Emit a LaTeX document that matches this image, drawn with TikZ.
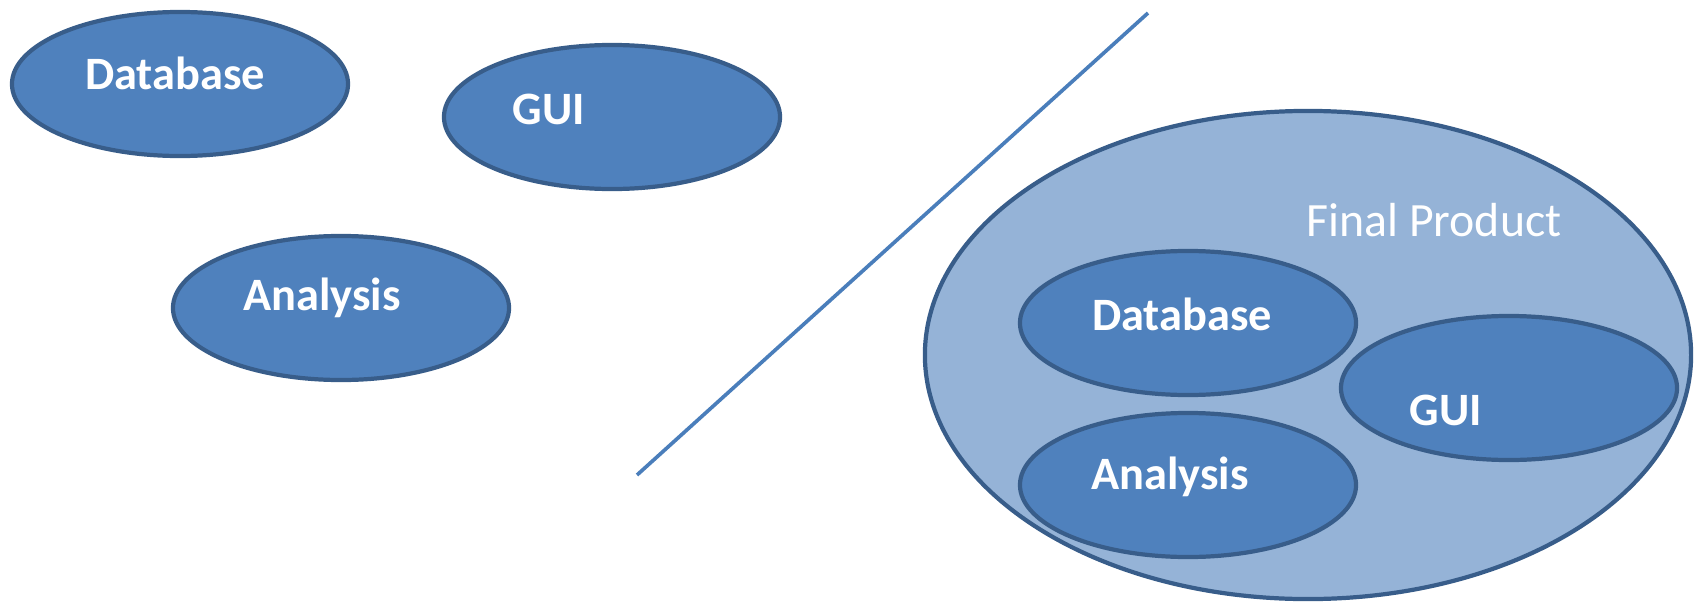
\documentclass[tikz,border=0pt]{standalone}
\usepackage{fontspec}
\setmainfont{Carlito}
\usetikzlibrary{shapes.geometric}

\definecolor{partfill}{HTML}{4F81BD}
\definecolor{partedge}{HTML}{385D8A}
\definecolor{wholefill}{HTML}{95B3D7}
\definecolor{cutline}{HTML}{4A7EBB}

\tikzset{
    part/.style={ellipse, draw=partedge, fill=partfill, line width=3pt,
        inner sep=0pt, minimum width=8.4cm, minimum height=3.6cm},
    whole/.style={ellipse, draw=partedge, fill=wholefill, line width=3pt,
        inner sep=0pt, minimum width=19.15cm, minimum height=12.2cm},
    partname/.style={text=white, anchor=base, inner sep=0pt,
        font=\fontsize{33}{40}\selectfont\bfseries},
    wholename/.style={text=white, anchor=base, inner sep=0pt,
        font=\fontsize{34}{41}\selectfont}
}

\begin{document}
\begin{tikzpicture}[x=0.025cm, y=-0.025cm]
        \useasboundingbox (0,0) rectangle (1696,605);

        % ==================== 左侧：分开的三个模块 ====================
        \node[part] (db) at (180,84) {};
        \node[partname] (dbName) at ([shift={(-5,5)}]db.center) {Database};

        \node[part] (gui) at (612,117) {};
        \node[partname] (guiName) at ([shift={(-63,7)}]gui.center) {GUI};

        \node[part] (ana) at (341,308) {};
        \node[partname] (anaName) at ([shift={(-19,2)}]ana.center) {Analysis};

        % ==================== 中间的分隔斜线 ====================
        \coordinate (cutA) at (637,475);
        \coordinate (cutB) at (1148,13);
        \draw[cutline, line width=2.6pt] (cutA) -- (cutB);

        % ==================== 右侧：组合后的整体 ====================
        \node[whole] (prod) at (1308,355) {};
        \node[wholename] (prodName) at ([shift={(126,-119)}]prod.center) {Final Product};

        \node[part] (db2) at (1188,323) {};
        \node[partname] (db2Name) at ([shift={(-6,7)}]db2.center) {Database};

        \node[part] (gui2) at (1509,388) {};
        \node[partname] (gui2Name) at ([shift={(-63,37)}]gui2.center) {GUI};

        \node[part] (ana2) at (1188,485) {};
        \node[partname] (ana2Name) at ([shift={(-18,4)}]ana2.center) {Analysis};

\end{tikzpicture}
\end{document}
